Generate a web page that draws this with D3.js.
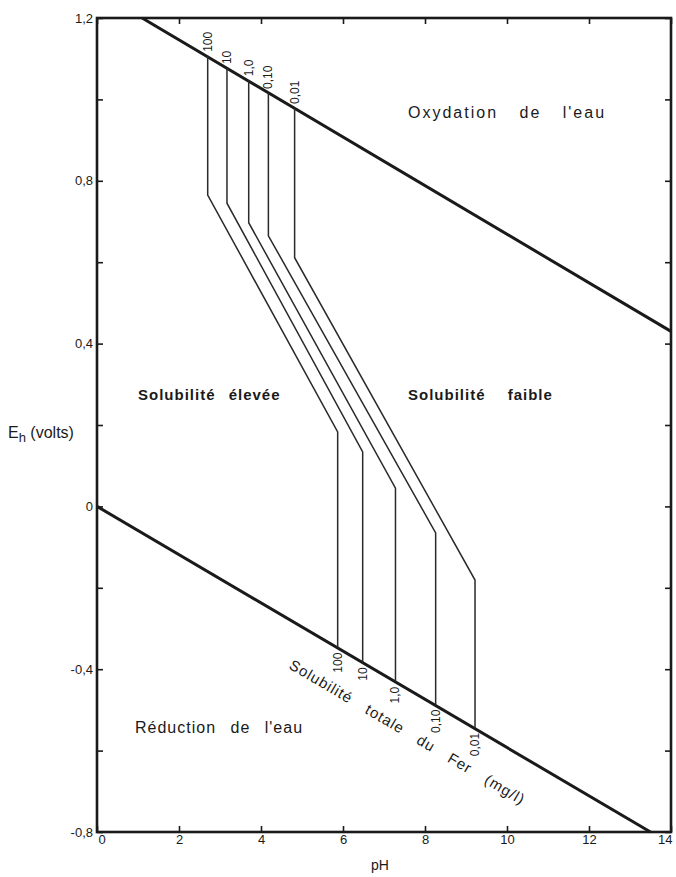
<!DOCTYPE html>
<html><head><meta charset="utf-8">
<script src="https://cdn.jsdelivr.net/npm/d3@7"></script>
<style>
body{margin:0;background:#fff;}
text{font-family:"Liberation Sans",Arial,sans-serif;fill:#1a1a1a;}
</style></head>
<body>
<svg id="c" width="676" height="877"></svg>
<script>
// ---- data ----
const xTicks = [0,2,4,6,8,10,12,14];
const yTicks = [1.2,1.0,0.8,0.6,0.4,0.2,0,-0.2,-0.4,-0.6,-0.8];
const yLabeled = [1.2,0.8,0.4,0,-0.4,-0.8];
const oxPH = [1.1, 14];      // oxydation de l'eau
const oxEh = [1.2, 0.43];
const redPH = [0, 13.5];     // réduction de l'eau
const redEh = [0, -0.8];
const concentrations = ["100","10","1,0","0,10","0,01"];
const topPH    = [2.70, 3.17, 3.70, 4.18, 4.82];
const topEh    = [1.107, 1.077, 1.047, 1.016, 0.979];
const kinkEh   = [0.765, 0.745, 0.697, 0.665, 0.611];
const lowPH    = [5.87, 6.48, 7.28, 8.26, 9.22];
const lowKinkEh= [0.183, 0.134, 0.045, -0.065, -0.181];
const bottomEh = [-0.347, -0.383, -0.431, -0.487, -0.544];

// ---- layout ----
const L=97, R=671, T=18, B=832;
const svg = d3.select("#c");
const x = d3.scaleLinear().domain([0,14]).range([L,R]);
const y = d3.scaleLinear().domain([-0.8,1.2]).range([B,T]);
const fmt = d => d===0 ? "0" : d3.format(".1f")(d).replace(".",",").replace("−","-");

// axes (inward ticks)
const gl = svg.append("g").attr("transform",`translate(${L},0)`)
  .call(d3.axisLeft(y).tickValues(yTicks).tickSize(-6).tickPadding(4)
    .tickFormat(d => yLabeled.some(v=>Math.abs(v-d)<1e-9) ? fmt(d) : ""));
const gr = svg.append("g").attr("transform",`translate(${R},0)`)
  .call(d3.axisRight(y).tickValues(yTicks).tickSize(-6).tickFormat(""));
const gb = svg.append("g").attr("transform",`translate(0,${B})`)
  .call(d3.axisBottom(x).tickValues(xTicks).tickSize(-6).tickPadding(3).tickFormat(d=>d));
const gt = svg.append("g").attr("transform",`translate(0,${T})`)
  .call(d3.axisTop(x).tickValues(xTicks).tickSize(-6).tickFormat(""));
[gl,gr,gb,gt].forEach(g=>{
  g.select(".domain").remove();
  g.selectAll(".tick line").attr("stroke","#1a1a1a").attr("stroke-width",1.6);
  g.selectAll(".tick text").attr("font-size",13).attr("fill","#1a1a1a")
   .style("font-family",'"Liberation Sans",Arial,sans-serif');
});
gl.selectAll(".tick text").attr("dy","0.32em");
gb.selectAll(".tick text").filter(d=>d===0).attr("text-anchor","start").attr("x",1);
gb.selectAll(".tick text").filter(d=>d===14).attr("text-anchor","end").attr("x",1);

// frame
svg.append("rect").attr("x",L).attr("y",T).attr("width",R-L).attr("height",B-T)
  .attr("fill","none").attr("stroke","#1a1a1a").attr("stroke-width",2.6);

const line = d3.line().x(d=>x(d[0])).y(d=>y(d[1]));
// water lines
svg.append("path").attr("d",line(oxPH.map((p,i)=>[p,oxEh[i]])))
  .attr("stroke","#1a1a1a").attr("stroke-width",3).attr("fill","none");
svg.append("path").attr("d",line(redPH.map((p,i)=>[p,redEh[i]])))
  .attr("stroke","#1a1a1a").attr("stroke-width",3).attr("fill","none");

// iron solubility curves
concentrations.forEach((c,i)=>{
  const pts = [[topPH[i],topEh[i]],[topPH[i],kinkEh[i]],[lowPH[i],lowKinkEh[i]],[lowPH[i],bottomEh[i]]];
  svg.append("path").attr("d",line(pts)).attr("fill","none")
    .attr("stroke","#2a2a2a").attr("stroke-width",1.5);
  // top label (reads upward)
  svg.append("text").attr("font-size",12)
    .attr("transform",`translate(${x(topPH[i])+4},${y(topEh[i])-4}) rotate(-90)`)
    .attr("text-anchor","start").text(c);
  // bottom label (reads upward, below the line)
  svg.append("text").attr("font-size",12)
    .attr("transform",`translate(${x(lowPH[i])+4},${y(bottomEh[i])+5}) rotate(-90)`)
    .attr("text-anchor","end").text(c);
});

// region labels
svg.append("text").attr("x",408).attr("y",118).attr("font-size",16)
  .attr("letter-spacing",2).attr("word-spacing",15).text("Oxydation de l'eau");
svg.append("text").attr("x",135).attr("y",733).attr("font-size",16)
  .attr("letter-spacing",1).attr("word-spacing",9).text("Réduction de l'eau");
svg.append("text").attr("x",138).attr("y",400).attr("font-size",15)
  .attr("font-weight","bold").attr("letter-spacing",1).attr("word-spacing",8).text("Solubilité élevée");
svg.append("text").attr("x",408).attr("y",400).attr("font-size",15)
  .attr("font-weight","bold").attr("letter-spacing",1).attr("word-spacing",17).text("Solubilité faible");

// along-line label
const ang = Math.atan2(y(redEh[1])-y(redEh[0]), x(redPH[1])-x(redPH[0]))*180/Math.PI;
svg.append("text").attr("font-size",15).attr("letter-spacing",1).attr("word-spacing",12)
  .attr("transform",`translate(${x(4.66)},${y(-0.397)}) rotate(${ang})`)
  .text("Solubilité totale du Fer (mg/l)");

// axis titles
const eh = svg.append("text").attr("x",8).attr("y",438).attr("font-size",16);
eh.append("tspan").text("E");
eh.append("tspan").attr("font-size",13).attr("dy",4).text("h");
eh.append("tspan").attr("dy",-4).text(" (volts)");
svg.append("text").attr("x",380).attr("y",870).attr("font-size",14)
  .attr("text-anchor","middle").text("pH");
</script>
</body></html>
